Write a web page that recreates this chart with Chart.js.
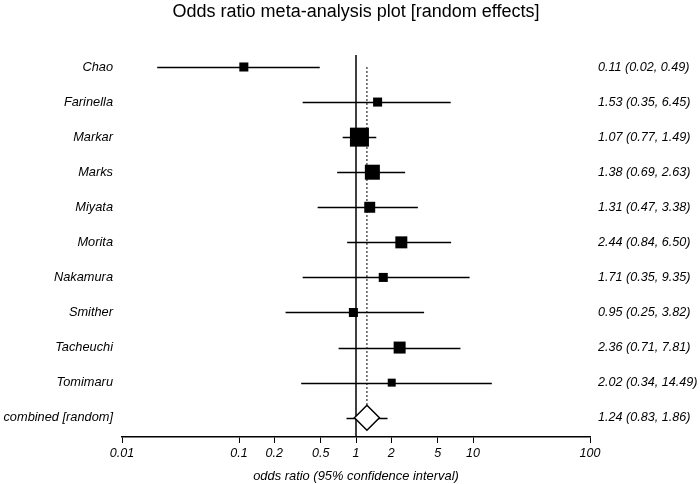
<!DOCTYPE html>
<html>
<head>
<meta charset="utf-8">
<script src="https://cdn.jsdelivr.net/npm/chart.js@4/dist/chart.umd.min.js"></script>
<style>
  html, body { margin: 0; padding: 0; background: #fff; }
  #wrap { width: 700px; height: 484px; position: relative; }
</style>
</head>
<body>
<div id="wrap"><canvas id="forest"></canvas></div>
<script>
// study rows, top to bottom
const studies = ['Chao', 'Farinella', 'Markar', 'Marks', 'Miyata', 'Morita', 'Nakamura', 'Smither', 'Tacheuchi', 'Tomimaru'];
const oddsRatio = [0.11, 1.53, 1.07, 1.38, 1.31, 2.44, 1.71, 0.95, 2.36, 2.02];
const ciLower = [0.02, 0.35, 0.77, 0.69, 0.47, 0.84, 0.35, 0.25, 0.71, 0.34];
const ciUpper = [0.49, 6.45, 1.49, 2.63, 3.38, 6.50, 9.35, 3.82, 7.81, 14.49];
// relative study weights (%), shown by box area
const weights = [5.9, 5.9, 26.1, 16.3, 8.7, 10.4, 5.9, 5.9, 10.4, 4.6];

const pooledLabel = 'combined [random]';
const pooled = [1.24, 0.83, 1.86];   // estimate, lower, upper

const xTicks = [0.01, 0.1, 0.2, 0.5, 1, 2, 5, 10, 100];

const rowLabels = studies.concat([pooledLabel]);
const fmt = v => v.toFixed(2);
const valueLabels = studies.map((s, i) => `${fmt(oddsRatio[i])} (${fmt(ciLower[i])}, ${fmt(ciUpper[i])})`)
  .concat([`${fmt(pooled[0])} (${fmt(pooled[1])}, ${fmt(pooled[2])})`]);
const rowIdx = rowLabels.map((_, i) => i);

const maxW = Math.max(...weights);
const boxRadius = weights.map(w => Math.sqrt(w / maxW) * 19 / (2 * Math.SQRT1_2));
const FONT = "'Liberation Sans', Arial, sans-serif";

// confidence interval lines + reference lines
const ciLines = {
  id: 'ciLines',
  beforeDatasetsDraw(chart) {
    const { ctx, scales: { x, y }, chartArea } = chart;
    ctx.save();
    // no-effect line at 1
    const x1 = x.getPixelForValue(1);
    ctx.strokeStyle = '#000';
    ctx.lineWidth = 1.5;
    ctx.beginPath();
    ctx.moveTo(x1, y.getPixelForValue(-0.34));
    ctx.lineTo(x1, chartArea.bottom);
    ctx.stroke();
    // dotted line at pooled estimate
    const xp = x.getPixelForValue(pooled[0]);
    ctx.lineWidth = 1;
    ctx.setLineDash([2, 2]);
    ctx.beginPath();
    ctx.moveTo(xp, y.getPixelForValue(0));
    ctx.lineTo(xp, y.getPixelForValue(studies.length) - 12.5);
    ctx.stroke();
    ctx.setLineDash([]);
    // CI whiskers
    ctx.lineWidth = 1.3;
    const lo = ciLower.concat([pooled[1]]);
    const hi = ciUpper.concat([pooled[2]]);
    rowIdx.forEach(i => {
      const py = Math.round(y.getPixelForValue(i)) + 0.5;
      ctx.beginPath();
      ctx.moveTo(x.getPixelForValue(lo[i]), py);
      ctx.lineTo(x.getPixelForValue(hi[i]), py);
      ctx.stroke();
    });
    ctx.restore();
  }
};

const yCommon = {
  type: 'linear',
  min: -0.57,
  max: 10.55,
  reverse: true,
  grid: { display: false, drawTicks: false },
  border: { display: false },
  afterBuildTicks: scale => { scale.ticks = rowIdx.map(v => ({ value: v })); }
};

new Chart(document.getElementById('forest').getContext('2d'), {
  type: 'scatter',
  data: {
    datasets: [
      {
        label: 'studies',
        data: studies.map((s, i) => ({ x: oddsRatio[i], y: i })),
        pointStyle: 'rect',
        pointRadius: boxRadius,
        backgroundColor: '#000',
        borderWidth: 0
      },
      {
        label: 'combined',
        data: [{ x: pooled[0], y: studies.length }],
        pointStyle: 'rectRot',
        pointRadius: 12.5,
        backgroundColor: '#fff',
        borderColor: '#000',
        borderWidth: 1.5
      }
    ]
  },
  options: {
    responsive: true,
    maintainAspectRatio: false,
    animation: false,
    events: [],
    layout: { padding: 0 },
    plugins: {
      legend: { display: false },
      tooltip: { enabled: false },
      title: {
        display: true,
        fullSize: false,
        text: 'Odds ratio meta-analysis plot [random effects]',
        color: '#000',
        font: { family: FONT, size: 18, weight: 'normal' },
        padding: { top: 1.2, bottom: 24.2 }
      }
    },
    scales: {
      x: {
        type: 'logarithmic',
        min: 0.01,
        max: 100,
        afterBuildTicks: scale => { scale.ticks = xTicks.map(v => ({ value: v })); },
        afterFit: scale => { scale.height = 47; },
        grid: { drawOnChartArea: false, drawTicks: true, tickLength: 6, color: '#000', lineWidth: 1 },
        border: { display: true, color: '#000', width: 1.5 },
        ticks: {
          autoSkip: false,
          maxRotation: 0,
          padding: 3,
          color: '#000',
          font: { family: FONT, size: 12.5, style: 'italic' },
          callback: v => String(v)
        },
        title: {
          display: true,
          text: 'odds ratio (95% confidence interval)',
          color: '#000',
          font: { family: FONT, size: 12.9, style: 'italic' },
          padding: { top: 2, bottom: 0 }
        }
      },
      y: Object.assign({}, yCommon, {
        position: 'left',
        afterFit: scale => { scale.width = 122; },
        ticks: {
          padding: 9,
          color: '#000',
          font: { family: FONT, size: 12.8, style: 'italic' },
          callback: v => rowLabels[v]
        }
      }),
      y2: Object.assign({}, yCommon, {
        position: 'right',
        display: true,
        afterFit: scale => { scale.width = 110; },
        ticks: {
          padding: 8,
          color: '#000',
          font: { family: FONT, size: 12.6, style: 'italic' },
          callback: v => valueLabels[v]
        }
      })
    }
  },
  plugins: [ciLines]
});
</script>
</body>
</html>
